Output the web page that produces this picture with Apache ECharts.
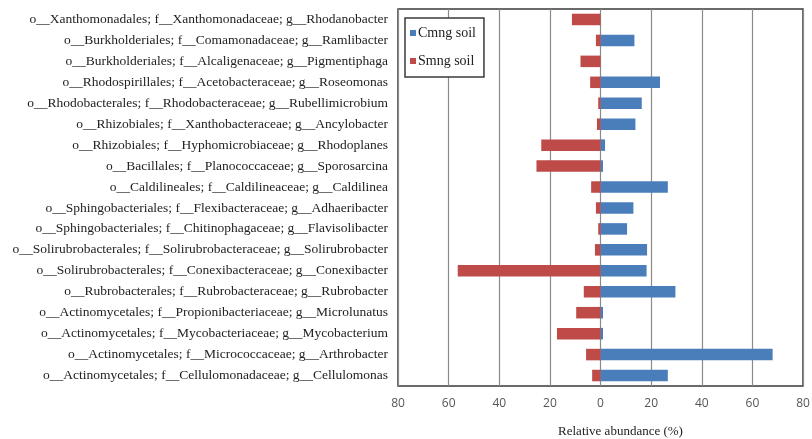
<!DOCTYPE html>
<html>
<head>
<meta charset="utf-8">
<script src="https://cdn.jsdelivr.net/npm/echarts@6/dist/echarts.min.js"></script>
<style>
  html, body { margin: 0; padding: 0; background: #fff; }
  #chart { width: 812px; height: 439px; }
</style>
</head>
<body>
<div id="chart"></div>
<script>
// Taxa, listed top to bottom
const taxa = [
  'o__Xanthomonadales; f__Xanthomonadaceae; g__Rhodanobacter',
  'o__Burkholderiales; f__Comamonadaceae; g__Ramlibacter',
  'o__Burkholderiales; f__Alcaligenaceae; g__Pigmentiphaga',
  'o__Rhodospirillales; f__Acetobacteraceae; g__Roseomonas',
  'o__Rhodobacterales; f__Rhodobacteraceae; g__Rubellimicrobium',
  'o__Rhizobiales; f__Xanthobacteraceae; g__Ancylobacter',
  'o__Rhizobiales; f__Hyphomicrobiaceae; g__Rhodoplanes',
  'o__Bacillales; f__Planococcaceae; g__Sporosarcina',
  'o__Caldilineales; f__Caldilineaceae; g__Caldilinea',
  'o__Sphingobacteriales; f__Flexibacteraceae; g__Adhaeribacter',
  'o__Sphingobacteriales; f__Chitinophagaceae; g__Flavisolibacter',
  'o__Solirubrobacterales; f__Solirubrobacteraceae; g__Solirubrobacter',
  'o__Solirubrobacterales; f__Conexibacteraceae; g__Conexibacter',
  'o__Rubrobacterales; f__Rubrobacteraceae; g__Rubrobacter',
  'o__Actinomycetales; f__Propionibacteriaceae; g__Microlunatus',
  'o__Actinomycetales; f__Mycobacteriaceae; g__Mycobacterium',
  'o__Actinomycetales; f__Micrococcaceae; g__Arthrobacter',
  'o__Actinomycetales; f__Cellulomonadaceae; g__Cellulomonas'
];

// Relative abundance (%) in Cmng soil (drawn to the right)
const cmng = [0, 13.4, 0, 23.5, 16.3, 13.8, 1.8, 1.0, 26.6, 13.0, 10.5, 18.4, 18.2, 29.6, 1.0, 1.0, 68.0, 26.6];
// Relative abundance (%) in Smng soil (drawn to the left)
const smng = [11.3, 1.8, 7.9, 4.1, 0.9, 1.4, 23.4, 25.3, 3.7, 1.8, 0.9, 2.2, 56.4, 6.6, 9.6, 17.2, 5.7, 3.3];

const seriesNames = ['Cmng soil', 'Smng soil'];
const axisTitle = 'Relative abundance (%)';

const chart = echarts.init(document.getElementById('chart'));
chart.setOption({
  backgroundColor: '#fff',
  animation: false,
  grid: {
    left: 398, right: 9, top: 9, bottom: 53,
    outerBoundsMode: 'none',
    show: true, borderColor: '#3a3a3a', borderWidth: 1.5, backgroundColor: 'transparent'
  },
  legend: {
    orient: 'vertical',
    left: 405, top: 18,
    itemWidth: 6, itemHeight: 6, itemGap: 14,
    icon: 'rect',
    padding: [8, 8, 9, 5],
    borderColor: '#3a3a3a', borderWidth: 1.5,
    backgroundColor: '#fff',
    textStyle: { fontFamily: 'Liberation Serif', fontSize: 14, color: '#222', padding: [0, 0, 0, -3] },
    data: seriesNames
  },
  xAxis: {
    type: 'value',
    min: -80, max: 80, interval: 20,
    axisLine: { show: false },
    axisTick: { show: false },
    splitLine: { show: true, lineStyle: { color: '#8a8a8a', width: 1.2 } },
    axisLabel: {
      margin: 12,
      fontFamily: 'Open Sans', fontSize: 12, color: '#555',
      formatter: v => String(Math.abs(v))
    },
    name: axisTitle,
    nameLocation: 'middle',
    nameGap: 39,
    nameTextStyle: { fontFamily: 'Liberation Serif', fontSize: 13, color: '#222', padding: [0, 0, 0, 40] }
  },
  yAxis: {
    type: 'category',
    inverse: true,
    data: taxa,
    axisLine: { show: false },
    axisTick: { show: false },
    splitLine: { show: false },
    axisLabel: {
      margin: 10,
      fontFamily: 'Liberation Serif', fontSize: 13.5, color: '#222'
    }
  },
  series: [
    {
      name: seriesNames[0], type: 'bar',
      data: cmng,
      barWidth: '55%', barGap: '-100%',
      itemStyle: { color: '#4a7ebb' }
    },
    {
      name: seriesNames[1], type: 'bar',
      data: smng.map(v => -v),
      barWidth: '55%', barGap: '-100%',
      itemStyle: { color: '#be4b48' }
    }
  ]
});
</script>
</body>
</html>
